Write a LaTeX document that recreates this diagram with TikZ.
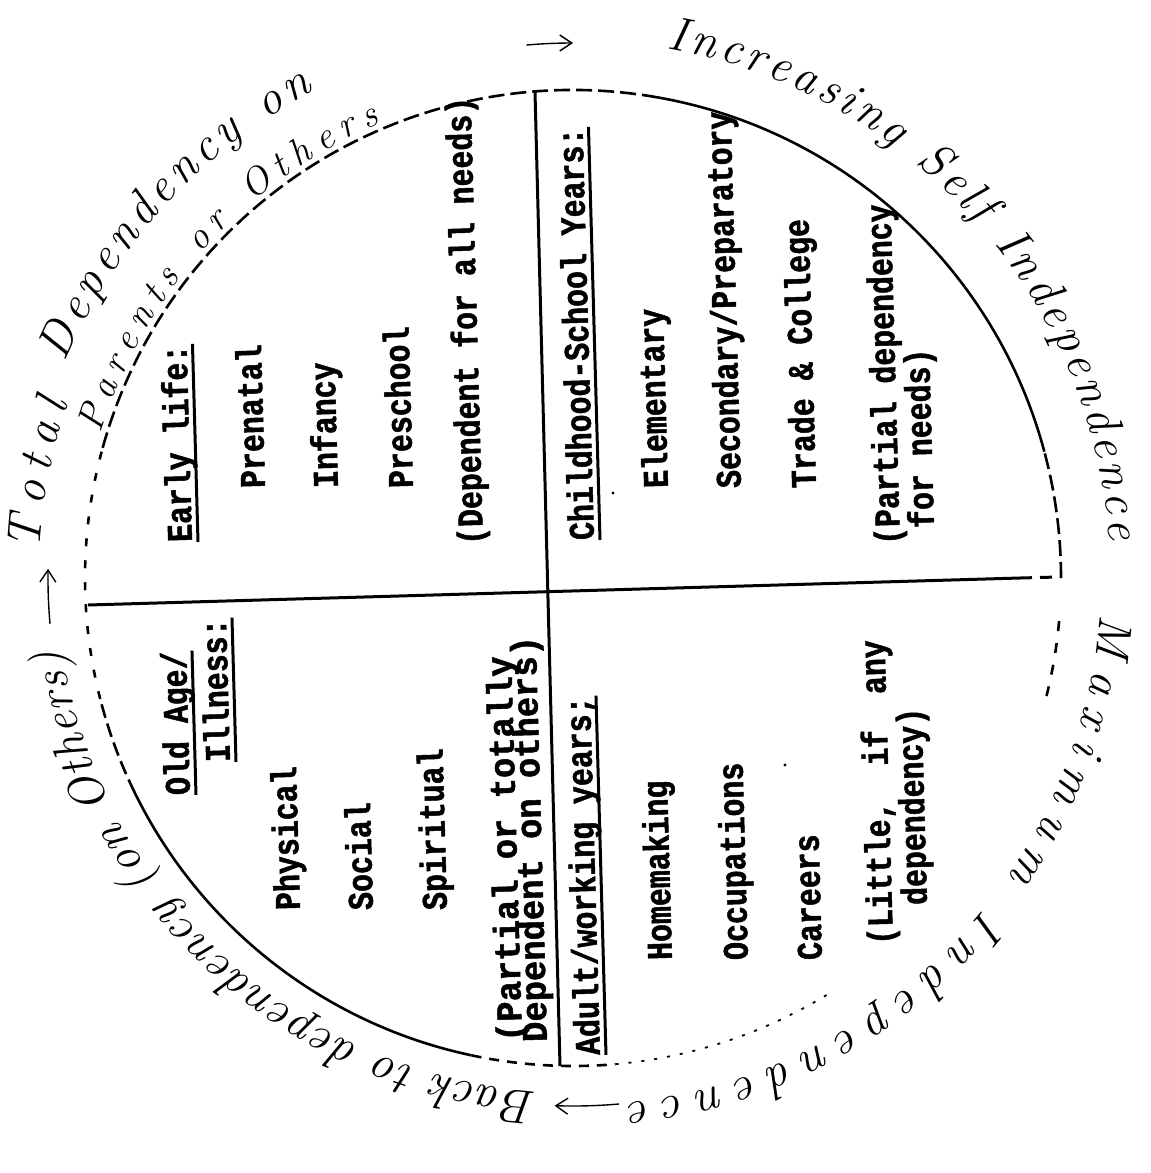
\documentclass[tikz,border=0pt]{standalone}
\usepackage{fontspec}
\usetikzlibrary{calc,decorations.text,arrows.meta}
\newfontfamily\twfont{Liberation Mono}[FakeStretch=0.83,FakeBold=1.4]
\newfontfamily\twwidefont{Liberation Mono}[FakeStretch=0.94,FakeBold=1.4]
\newcommand\handfont{\itshape\fontsize{24}{24}\selectfont}
\newcommand\handsmall{\itshape\fontsize{19}{19}\selectfont}
\newcommand\ulnode[1]{\draw[uline] ($(#1.base west)!3pt!-90:(#1.base east)$) -- ($(#1.base east)!3pt!90:(#1.base west)$);}
\begin{document}
\begin{tikzpicture}[x=0.5pt,y=0.5pt,
  typ/.style={font=\twfont\bfseries\fontsize{18}{20}\selectfont, inner sep=0pt, anchor=base west, rotate=91.6},
  typw/.style={typ, font=\twwidefont\bfseries\fontsize{18}{20}\selectfont},
  uline/.style={line width=1.5pt},
  circ/.style={line width=1.3pt},
  axisline/.style={line width=1.5pt},
  hw/.style={line width=0.7pt}
]
\useasboundingbox (0,0) rectangle (1151,-1173);

% ---- circle (hand-traced, partly broken)
\begin{scope}[shift={(573,-578)}]
  \draw[circ] (15:488) arc[start angle=15,end angle=80,radius=488];
  \draw[circ] (205:488) arc[start angle=205,end angle=258,radius=488];
  \draw[circ,dash pattern=on 8pt off 3pt] (80:488) arc[start angle=80,end angle=165,radius=488];
  \draw[circ,dash pattern=on 4pt off 7pt] (165:488) arc[start angle=165,end angle=195,radius=488];
  \draw[circ,dash pattern=on 7pt off 3pt] (195:488) arc[start angle=195,end angle=205,radius=488];
  \draw[circ,dash pattern=on 5pt off 4pt] (258:488) arc[start angle=258,end angle=275,radius=488];
  \draw[line width=0.9pt,dash pattern=on 1.5pt off 5pt] (275:488) arc[start angle=275,end angle=302,radius=488];
  \draw[circ,dash pattern=on 5pt off 6pt] (346:488) arc[start angle=346,end angle=356,radius=488];
  \draw[circ,dash pattern=on 8pt off 3pt] (0:488) arc[start angle=0,end angle=15,radius=488];

  % ---- handwritten annotations
  \path[decorate,decoration={text along path,text={|\handfont|Total},text align={fit to path}}]
    (177:534) arc[start angle=177,end angle=161,radius=534];
  \path[decorate,decoration={text along path,text={|\handfont|Dependency on},text align={fit to path}}]
    (157:552) arc[start angle=157,end angle=118,radius=552];
  \path[decorate,decoration={text along path,text={|\handsmall|Parents or Others},text align={fit to path}}]
    (163:494) arc[start angle=163,end angle=113,radius=494];
  \path[decorate,decoration={text along path,text={|\handfont|Increasing Self Independence},text align={fit to path}}]
    (80:538) arc[start angle=80,end angle=4,radius=538];
  \path[decorate,decoration={text along path,text={|\handfont|Maximum Independence},text align={fit to path}}]
    (-4:528) arc[start angle=-4,end angle=-84,radius=528];
  \path[decorate,decoration={text along path,text={|\handfont|Back to dependency (on Others)},text align={fit to path}}]
    (-94:515) arc[start angle=-94,end angle=-172,radius=515];

  \coordinate (a1s) at (95:535);
  \coordinate (a2s) at (-85:528);
  \coordinate (a3s) at (185:525);
  \draw[hw,-{Straight Barb[length=6pt,width=8pt]}] (a1s) arc[start angle=95,end angle=90,radius=535];
  \draw[hw,-{Straight Barb[length=6pt,width=8pt]}] (a2s) arc[start angle=-85,end angle=-92,radius=528];
  \draw[hw,-{Straight Barb[length=6pt,width=8pt]}] (a3s) arc[start angle=185,end angle=179,radius=525];
\end{scope}

% ---- dividing lines
\coordinate (vt) at (535,-92);
\coordinate (vb) at (560,-1066);
\coordinate (hl) at (88,-605);
\coordinate (hx) at (1020,-578);
\coordinate (hr) at (1058,-577);
\draw[axisline] (vt) -- (vb);
\draw[axisline] (hl) -- (hx);
\draw[axisline,dash pattern=on 6pt off 4pt] (hx) -- (hr);

% ---- Early life
\node[typ] (early) at (192,-542) {Early life:};
\node[typ] (prenatal) at (265,-488) {Prenatal};
\node[typ] (infancy) at (338,-488) {Infancy};
\node[typ] (preschool) at (413,-488) {Preschool};
\node[typ] (depall) at (483,-545) {(Dependent for all needs)};
\ulnode{early}

% ---- Childhood-School Years
\node[typ] (child) at (594,-540) {Childhood-School Years:};
\node[typ] (elem) at (668,-488) {Elementary};
\node[typ] (second) at (741,-488) {Secondary/Preparatory};
\node[typ] (trade) at (816,-488) {Trade \& College};
\node[typ] (pdep1) at (900,-545) {(Partial dependency};
\node[typ] (pdep2) at (934,-528) {for needs)};
\ulnode{child}

% ---- Old Age / Illness
\node[typ] (old1) at (190,-795) {Old Age/};
\node[typ] (old2) at (230,-762) {Illness:};
\node[typ] (phys) at (300,-910) {Physical};
\node[typ] (social) at (373,-910) {Social};
\node[typ] (spirit) at (447,-910) {Spiritual};
\node[typw] (pt1) at (522,-1042) {(Partial or totally};
\node[typw] (pt2) at (547,-1042) {Dependent on others)};
\ulnode{old1}
\ulnode{old2}

% ---- Adult / working years
\node[typ] (adult) at (600,-1055) {Adult/working years;};
\node[typ] (home) at (672,-960) {Homemaking};
\node[typ] (occ) at (748,-960) {Occupations};
\node[typ] (careers) at (822,-960) {Careers};
\node[typ] (lit1) at (893,-945) {(Little,\ \ if\ \ any};
\node[typ] (lit2) at (927,-905) {dependency)};
\ulnode{adult}

% stray specks of the original
\fill (613,-493) circle (1.6);
\fill (785,-765) circle (1.6);
\end{tikzpicture}
\end{document}
